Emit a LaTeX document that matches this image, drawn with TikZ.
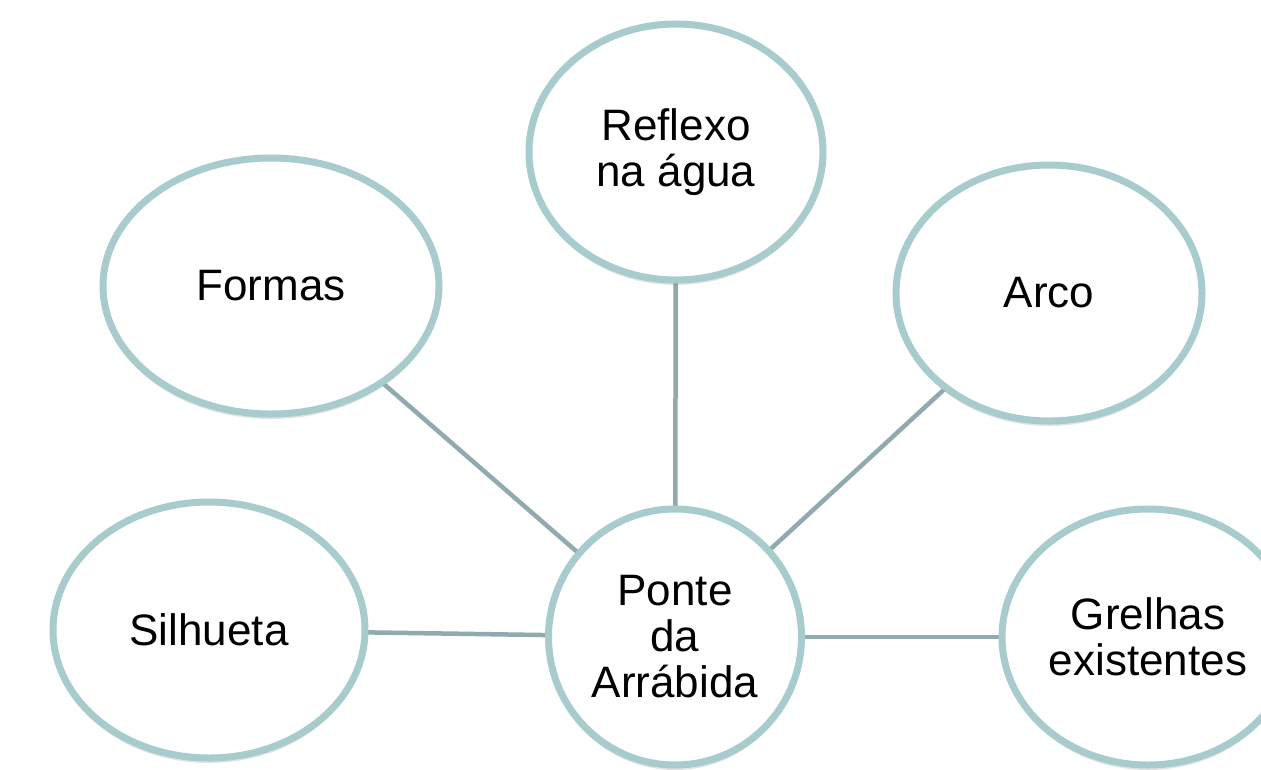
\documentclass[tikz,border=0pt]{standalone}
\usepackage{fontspec}
\setmainfont{Liberation Sans}
\usetikzlibrary{shapes.geometric,shadows,backgrounds}
\definecolor{rim}{HTML}{A8CBCE}
\definecolor{link}{HTML}{8FABAF}
\tikzset{
  bubble/.style={ellipse, draw=rim, line width=7pt, fill=white, inner sep=0pt,
    align=center, font=\fontsize{44}{46}\selectfont,
    drop shadow={shadow xshift=0pt, shadow yshift=-5pt, opacity=0.18, fill=black!60}},
  linkline/.style={draw=link, line width=4.5pt}
}
\begin{document}
\begin{tikzpicture}[x=1pt,y=-1pt]
\useasboundingbox (0,0) rectangle (1261,769);
\clip (0,0) rectangle (1261,769);
\node[bubble, minimum width=294pt, minimum height=256pt] (refl) at (676,152) {Reflexo\\na água};
\node[bubble, minimum width=336pt, minimum height=256pt] (form) at (271,286) {Formas};
\node[bubble, minimum width=306pt, minimum height=256pt] (arco) at (1049,293) {Arco};
\node[bubble, minimum width=312pt, minimum height=256pt] (silh) at (209,630) {Silhueta};
\node[bubble, minimum width=253pt, minimum height=256pt] (ponte) at (675,637) {Ponte\\da\\Arrábida};
\node[bubble, minimum width=292pt, minimum height=256pt] (grel) at (1148,637) {Grelhas\\existentes};
\begin{scope}[on background layer]
\draw[linkline] (form.center) -- (ponte.center);
\draw[linkline] (refl.center) -- (ponte.center);
\draw[linkline] (arco.center) -- (ponte.center);
\draw[linkline] (silh.center) -- (ponte.center);
\draw[linkline] (grel.center) -- (ponte.center);
\end{scope}
\end{tikzpicture}
\end{document}
